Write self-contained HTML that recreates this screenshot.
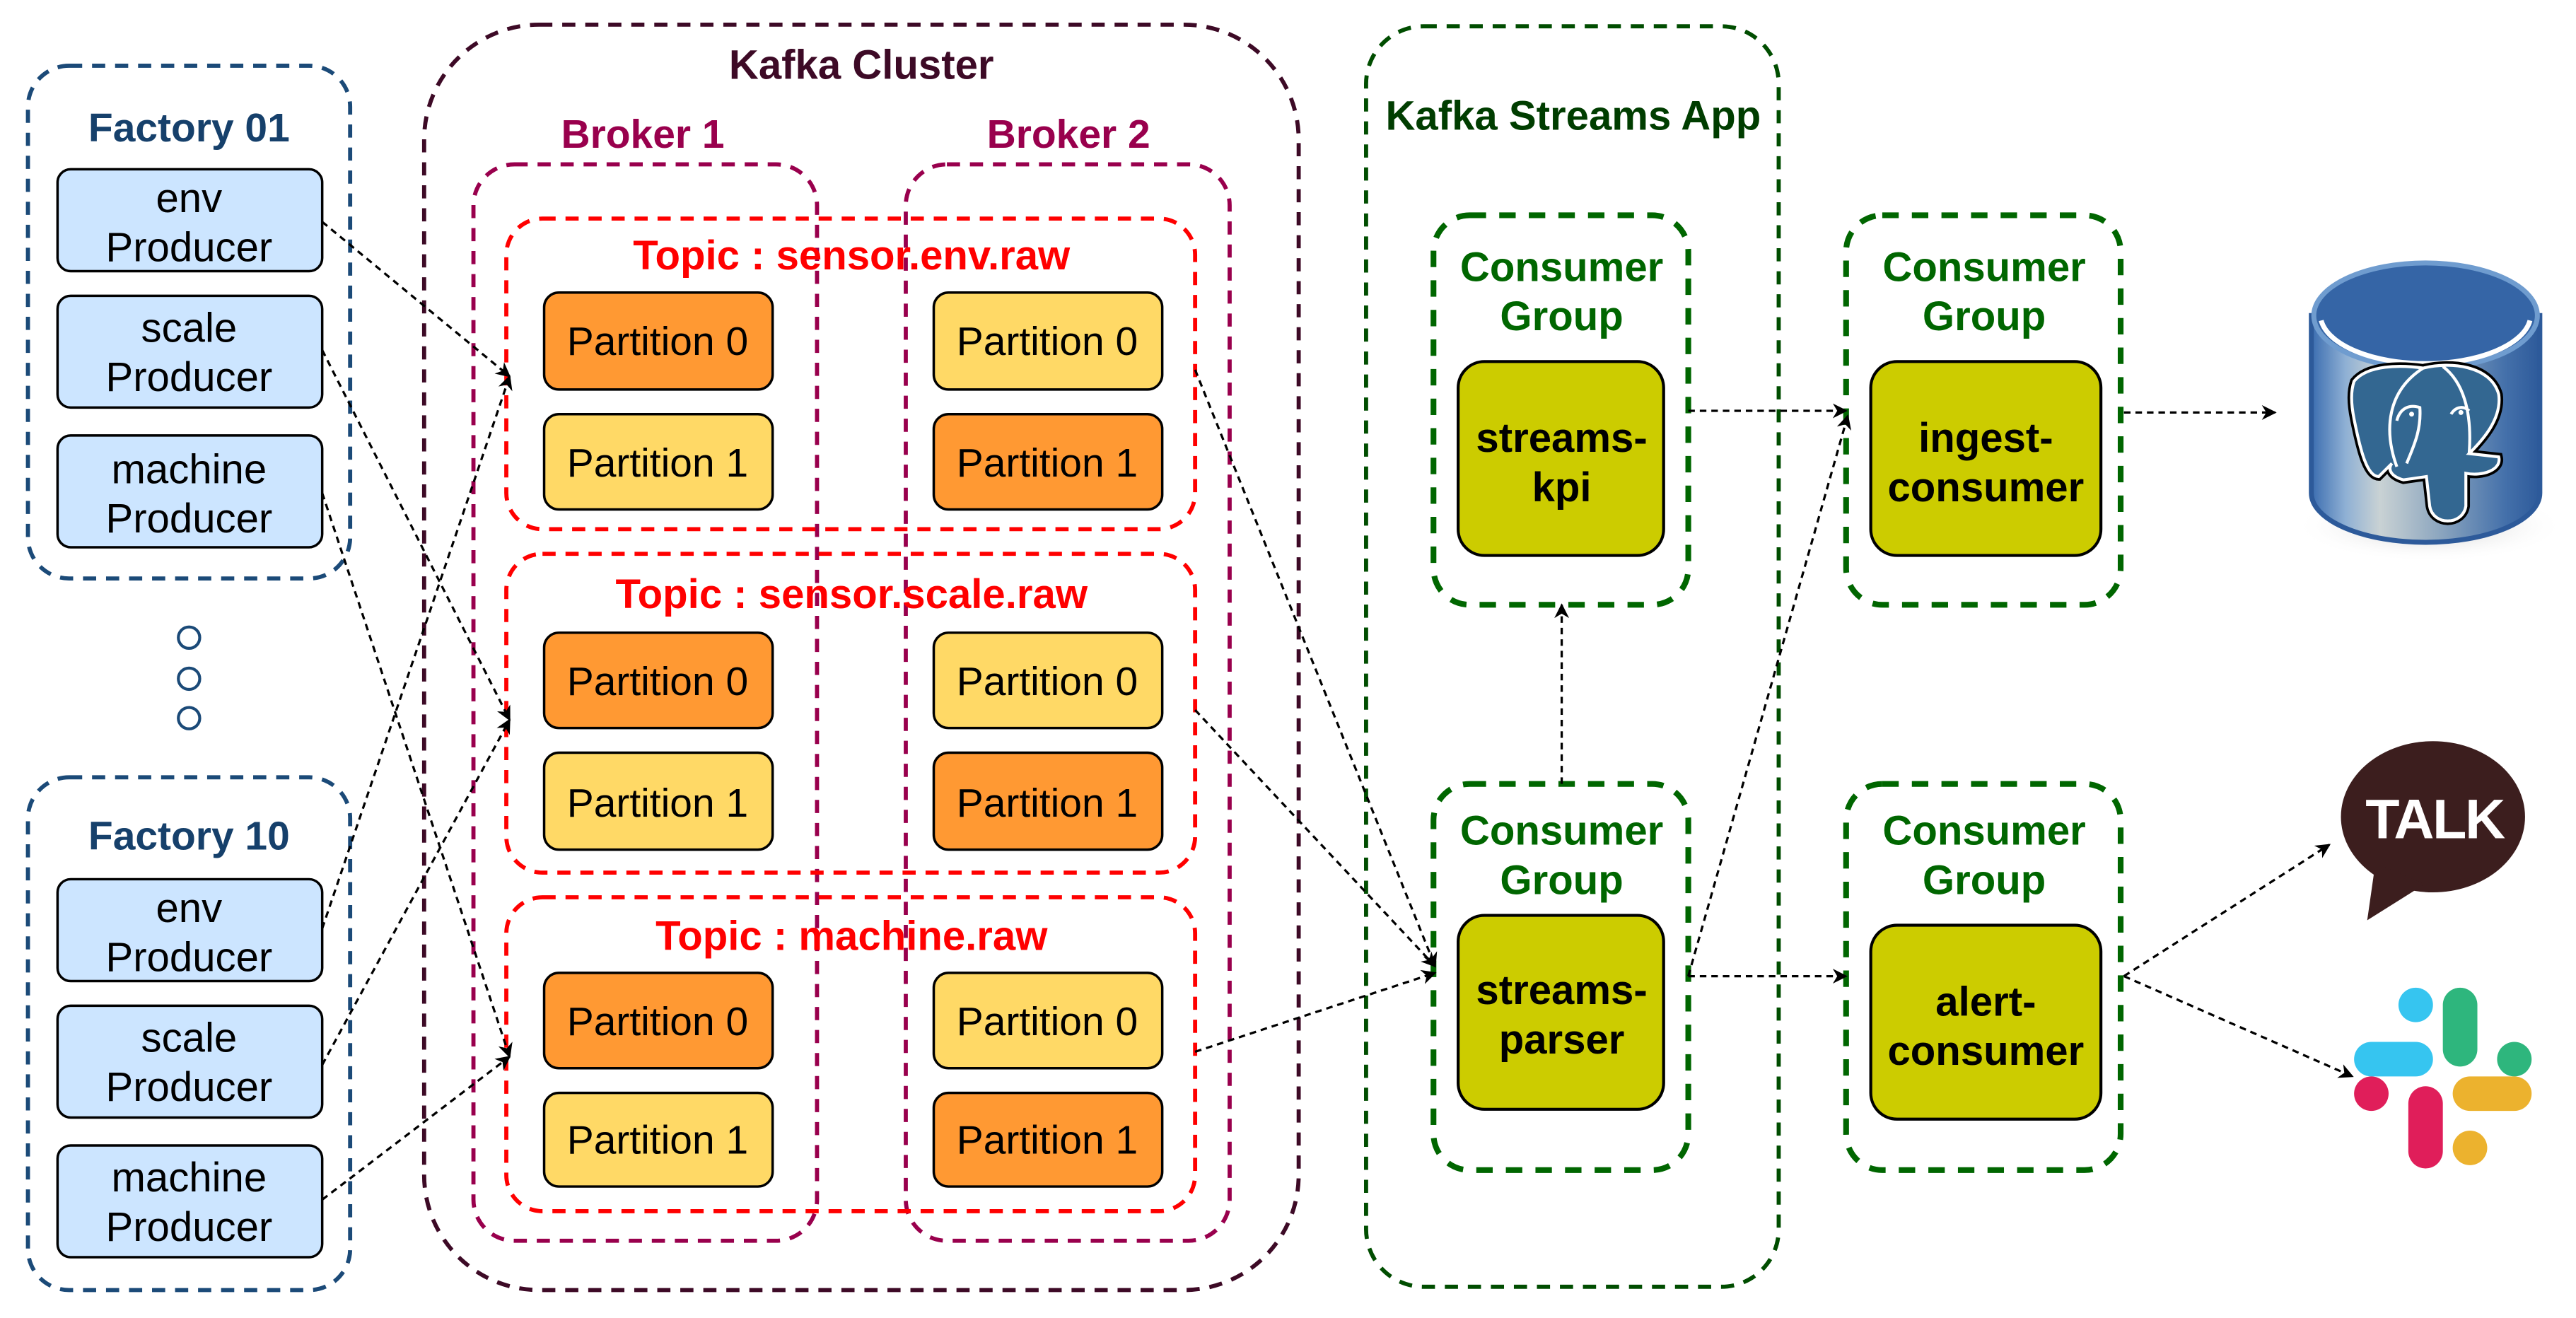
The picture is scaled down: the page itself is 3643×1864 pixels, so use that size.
<!DOCTYPE html>
<html><head><meta charset="utf-8"><style>
html,body{margin:0;padding:0;background:#fff;}
svg{display:block;}
text{font-family:"Liberation Sans",Arial,sans-serif;}
</style></head><body>
<svg width="3643" height="1864" viewBox="0 0 1567 802" preserveAspectRatio="none" xmlns="http://www.w3.org/2000/svg">
<defs>
<marker id="ah" viewBox="0 0 10 10" refX="9" refY="5" markerWidth="9" markerHeight="9" markerUnits="userSpaceOnUse" orient="auto">
<path d="M0,0 L10,5 L0,10 L3,5 Z" fill="#000"/></marker>
<linearGradient id="cyl" x1="0" x2="1" y1="0" y2="0">
<stop offset="0" stop-color="#3b6db0"/><stop offset="0.15" stop-color="#8fb0d4"/><stop offset="0.3" stop-color="#c9d2d4"/><stop offset="0.55" stop-color="#8fa8c0"/><stop offset="0.85" stop-color="#4470aa"/><stop offset="1" stop-color="#2d5a9a"/></linearGradient>
<radialGradient id="shadow" cx="0.5" cy="0.5" r="0.5"><stop offset="0" stop-color="#999" stop-opacity="0.6"/><stop offset="1" stop-color="#fff" stop-opacity="0"/></radialGradient>
</defs>

<!-- Factory 01 -->
<rect x="17" y="40" width="196" height="312" rx="25" fill="none" stroke="#1b4a78" stroke-width="2.5" stroke-dasharray="8,6"/>
<text x="115" y="86" text-anchor="middle" font-size="24.5" font-weight="bold" fill="#16406b">Factory 01</text>
<g font-size="25" text-anchor="middle" fill="#000">
<rect x="35" y="103" width="161" height="62" rx="8" fill="#cce5ff" stroke="#000" stroke-width="1.5"/>
<text x="115" y="129">env</text><text x="115" y="159">Producer</text>
<rect x="35" y="180" width="161" height="68" rx="8" fill="#cce5ff" stroke="#000" stroke-width="1.5"/>
<text x="115" y="208">scale</text><text x="115" y="238">Producer</text>
<rect x="35" y="265" width="161" height="68" rx="8" fill="#cce5ff" stroke="#000" stroke-width="1.5"/>
<text x="115" y="294">machine</text><text x="115" y="324">Producer</text>
</g>
<circle cx="115" cy="388" r="6.5" fill="none" stroke="#1b4a78" stroke-width="1.8"/>
<circle cx="115" cy="413" r="6.5" fill="none" stroke="#1b4a78" stroke-width="1.8"/>
<circle cx="115" cy="437" r="6.5" fill="none" stroke="#1b4a78" stroke-width="1.8"/>

<!-- Factory 10 -->
<rect x="17" y="473" width="196" height="312" rx="25" fill="none" stroke="#1b4a78" stroke-width="2.5" stroke-dasharray="8,6"/>
<text x="115" y="517" text-anchor="middle" font-size="24.5" font-weight="bold" fill="#16406b">Factory 10</text>
<g font-size="25" text-anchor="middle" fill="#000">
<rect x="35" y="535" width="161" height="62" rx="8" fill="#cce5ff" stroke="#000" stroke-width="1.5"/>
<text x="115" y="561">env</text><text x="115" y="591">Producer</text>
<rect x="35" y="612" width="161" height="68" rx="8" fill="#cce5ff" stroke="#000" stroke-width="1.5"/>
<text x="115" y="640">scale</text><text x="115" y="670">Producer</text>
<rect x="35" y="697" width="161" height="68" rx="8" fill="#cce5ff" stroke="#000" stroke-width="1.5"/>
<text x="115" y="725">machine</text><text x="115" y="755">Producer</text>
</g>

<!-- Kafka Cluster -->
<rect x="258" y="15" width="532" height="770" rx="70" fill="none" stroke="#3d0a26" stroke-width="2.5" stroke-dasharray="8,6"/>
<text x="524" y="48" text-anchor="middle" font-size="25" font-weight="bold" fill="#3d0a26">Kafka Cluster</text>
<text x="391" y="90" text-anchor="middle" font-size="24.5" font-weight="bold" fill="#99004d">Broker 1</text>
<text x="650" y="90" text-anchor="middle" font-size="24.5" font-weight="bold" fill="#99004d">Broker 2</text>
<rect x="288" y="100" width="209" height="655" rx="25" fill="none" stroke="#99004d" stroke-width="2.5" stroke-dasharray="8,6"/>
<rect x="551" y="100" width="197" height="655" rx="25" fill="none" stroke="#99004d" stroke-width="2.5" stroke-dasharray="8,6"/>

<g fill="none" stroke="#ff0000" stroke-width="2.5" stroke-dasharray="8,6">
<rect x="308" y="133" width="419" height="189" rx="22"/>
<rect x="308" y="337" width="419" height="194" rx="22"/>
<rect x="308" y="546" width="419" height="191" rx="22"/>
</g>
<g font-size="25" font-weight="bold" fill="#ff0000" text-anchor="middle">
<text x="518" y="164">Topic : sensor.env.raw</text>
<text x="518" y="370">Topic : sensor.scale.raw</text>
<text x="518" y="578">Topic : machine.raw</text>
</g>

<g stroke="#000" stroke-width="1.5">
<rect x="331" y="178" width="139" height="59" rx="9" fill="#ff9933"/>
<rect x="331" y="252" width="139" height="58" rx="9" fill="#ffd966"/>
<rect x="568" y="178" width="139" height="59" rx="9" fill="#ffd966"/>
<rect x="568" y="252" width="139" height="58" rx="9" fill="#ff9933"/>
<rect x="331" y="385" width="139" height="58" rx="9" fill="#ff9933"/>
<rect x="331" y="458" width="139" height="59" rx="9" fill="#ffd966"/>
<rect x="568" y="385" width="139" height="58" rx="9" fill="#ffd966"/>
<rect x="568" y="458" width="139" height="59" rx="9" fill="#ff9933"/>
<rect x="331" y="592" width="139" height="58" rx="9" fill="#ff9933"/>
<rect x="331" y="665" width="139" height="57" rx="9" fill="#ffd966"/>
<rect x="568" y="592" width="139" height="58" rx="9" fill="#ffd966"/>
<rect x="568" y="665" width="139" height="57" rx="9" fill="#ff9933"/>
</g>
<g font-size="24.5" fill="#000" text-anchor="middle">
<text x="400" y="216">Partition 0</text><text x="400" y="290">Partition 1</text>
<text x="637" y="216">Partition 0</text><text x="637" y="290">Partition 1</text>
<text x="400" y="423">Partition 0</text><text x="400" y="497">Partition 1</text>
<text x="637" y="423">Partition 0</text><text x="637" y="497">Partition 1</text>
<text x="400" y="630">Partition 0</text><text x="400" y="702">Partition 1</text>
<text x="637" y="630">Partition 0</text><text x="637" y="702">Partition 1</text>
</g>

<!-- Kafka Streams App -->
<rect x="831" y="16" width="251" height="767" rx="35" fill="none" stroke="#004d00" stroke-width="2.5" stroke-dasharray="8,6"/>
<text x="957" y="79" text-anchor="middle" font-size="25" font-weight="bold" fill="#003d00">Kafka Streams App</text>

<g fill="none" stroke="#006600" stroke-width="3.5" stroke-dasharray="10,8">
<rect x="872" y="131" width="155" height="237" rx="22"/>
<rect x="872" y="477" width="155" height="235" rx="22"/>
<rect x="1123" y="131" width="167" height="237" rx="22"/>
<rect x="1123" y="477" width="167" height="235" rx="22"/>
</g>
<g font-size="25" font-weight="bold" fill="#006600" text-anchor="middle">
<text x="950" y="171">Consumer</text><text x="950" y="201">Group</text>
<text x="950" y="514">Consumer</text><text x="950" y="544">Group</text>
<text x="1207" y="171">Consumer</text><text x="1207" y="201">Group</text>
<text x="1207" y="514">Consumer</text><text x="1207" y="544">Group</text>
</g>
<g stroke="#000" stroke-width="1.8" fill="#cccc00">
<rect x="887" y="220" width="125" height="118" rx="16"/>
<rect x="887" y="557" width="125" height="118" rx="16"/>
<rect x="1138" y="220" width="140" height="118" rx="16"/>
<rect x="1138" y="563" width="140" height="118" rx="16"/>
</g>
<g font-size="25" font-weight="bold" fill="#000" text-anchor="middle">
<text x="950" y="275">streams-</text><text x="950" y="305">kpi</text>
<text x="950" y="611">streams-</text><text x="950" y="641">parser</text>
<text x="1208" y="275">ingest-</text><text x="1208" y="305">consumer</text>
<text x="1208" y="618">alert-</text><text x="1208" y="648">consumer</text>
</g>

<!-- Connectors -->
<g fill="none" stroke="#000" stroke-width="1.4" stroke-dasharray="4,3" marker-end="url(#ah)">
<path d="M196,135 L310,229"/>
<path d="M196,213 L310,438"/>
<path d="M196,300 L310,643"/>
<path d="M196,565 L310,229"/>
<path d="M196,648 L310,438"/>
<path d="M196,730 L310,643"/>
<path d="M727,225 L873,588"/>
<path d="M727,432 L873,588"/>
<path d="M727,640 L873,592"/>
<path d="M1027,250 L1123,250"/>
<path d="M950,477 L950,368"/>
<path d="M1027,594 L1124,253"/>
<path d="M1027,594 L1123,594"/>
<path d="M1292,251 L1384,251"/>
<path d="M1292,594 L1417,514"/>
<path d="M1292,594 L1431,655"/>
</g>

<!-- PostgreSQL -->
<ellipse cx="1478" cy="320" rx="82" ry="22" fill="url(#shadow)"/>
<path d="M1406,192 L1406,300 A69.5,30 0 0 0 1545,300 L1545,192 Z" fill="url(#cyl)" stroke="#2d5a9a" stroke-width="3"/>
<ellipse cx="1475.5" cy="192" rx="68" ry="32" fill="#3565a6" stroke="#6f9ccf" stroke-width="3"/>
<path d="M1412,195 A64,30 0 0 0 1539,195" fill="none" stroke="#fff" stroke-width="3"/>
<g>
<path d="M1432,232 C1440,222 1460,222 1474,224 C1490,220 1515,222 1520,240 C1522,255 1510,268 1502,276 L1520,278 C1522,286 1510,290 1500,288 L1500,308 C1498,320 1480,320 1478,308 L1476,290 L1462,292 C1455,290 1452,286 1455,282 L1447,290 C1440,290 1436,275 1432,255 C1430,245 1430,238 1432,232 Z" fill="#336791" stroke="#000" stroke-width="5"/>
<path d="M1432,232 C1440,222 1460,222 1474,224 C1490,220 1515,222 1520,240 C1522,255 1510,268 1502,276 L1520,278 C1522,286 1510,290 1500,288 L1500,308 C1498,320 1480,320 1478,308 L1476,290 L1462,292 C1455,290 1452,286 1455,282 L1447,290 C1440,290 1436,275 1432,255 C1430,245 1430,238 1432,232 Z" fill="#336791" stroke="#fff" stroke-width="1.8"/>
<path d="M1458,284 C1450,262 1452,238 1474,224 M1486,223 C1498,232 1504,250 1502,276 M1458,256 C1460,248 1466,246 1472,248 C1473,262 1468,272 1464,282 M1491,252 C1494,247 1499,247 1502,250" fill="none" stroke="#fff" stroke-width="1.8"/>
<circle cx="1467" cy="252" r="1.5" fill="#fff"/><circle cx="1497" cy="251" r="1.5" fill="#fff"/>
</g>

<!-- Kakao Talk -->
<ellipse cx="1480" cy="497" rx="56" ry="46" fill="#3c1e1e"/>
<path d="M1445,525 L1440,560 L1475,538 Z" fill="#3c1e1e"/>
<text x="1481" y="510" text-anchor="middle" font-size="34" font-weight="bold" fill="#fff" letter-spacing="-1">TALK</text>

<!-- Slack -->
<g transform="translate(1432,601)">
<rect x="0" y="33" width="48" height="21" rx="10.5" fill="#36c5f0"/>
<rect x="27" y="0" width="21" height="21" rx="10.5" fill="#36c5f0"/>
<rect x="54" y="0" width="21" height="48" rx="10.5" fill="#2eb67d"/>
<rect x="87" y="33" width="21" height="21" rx="10.5" fill="#2eb67d"/>
<rect x="33" y="60" width="21" height="50" rx="10.5" fill="#e01e5a"/>
<rect x="0" y="54" width="21" height="21" rx="10.5" fill="#e01e5a"/>
<rect x="60" y="54" width="48" height="21" rx="10.5" fill="#ecb22e"/>
<rect x="60" y="87" width="21" height="21" rx="10.5" fill="#ecb22e"/>
</g>
</svg>
</body></html>
